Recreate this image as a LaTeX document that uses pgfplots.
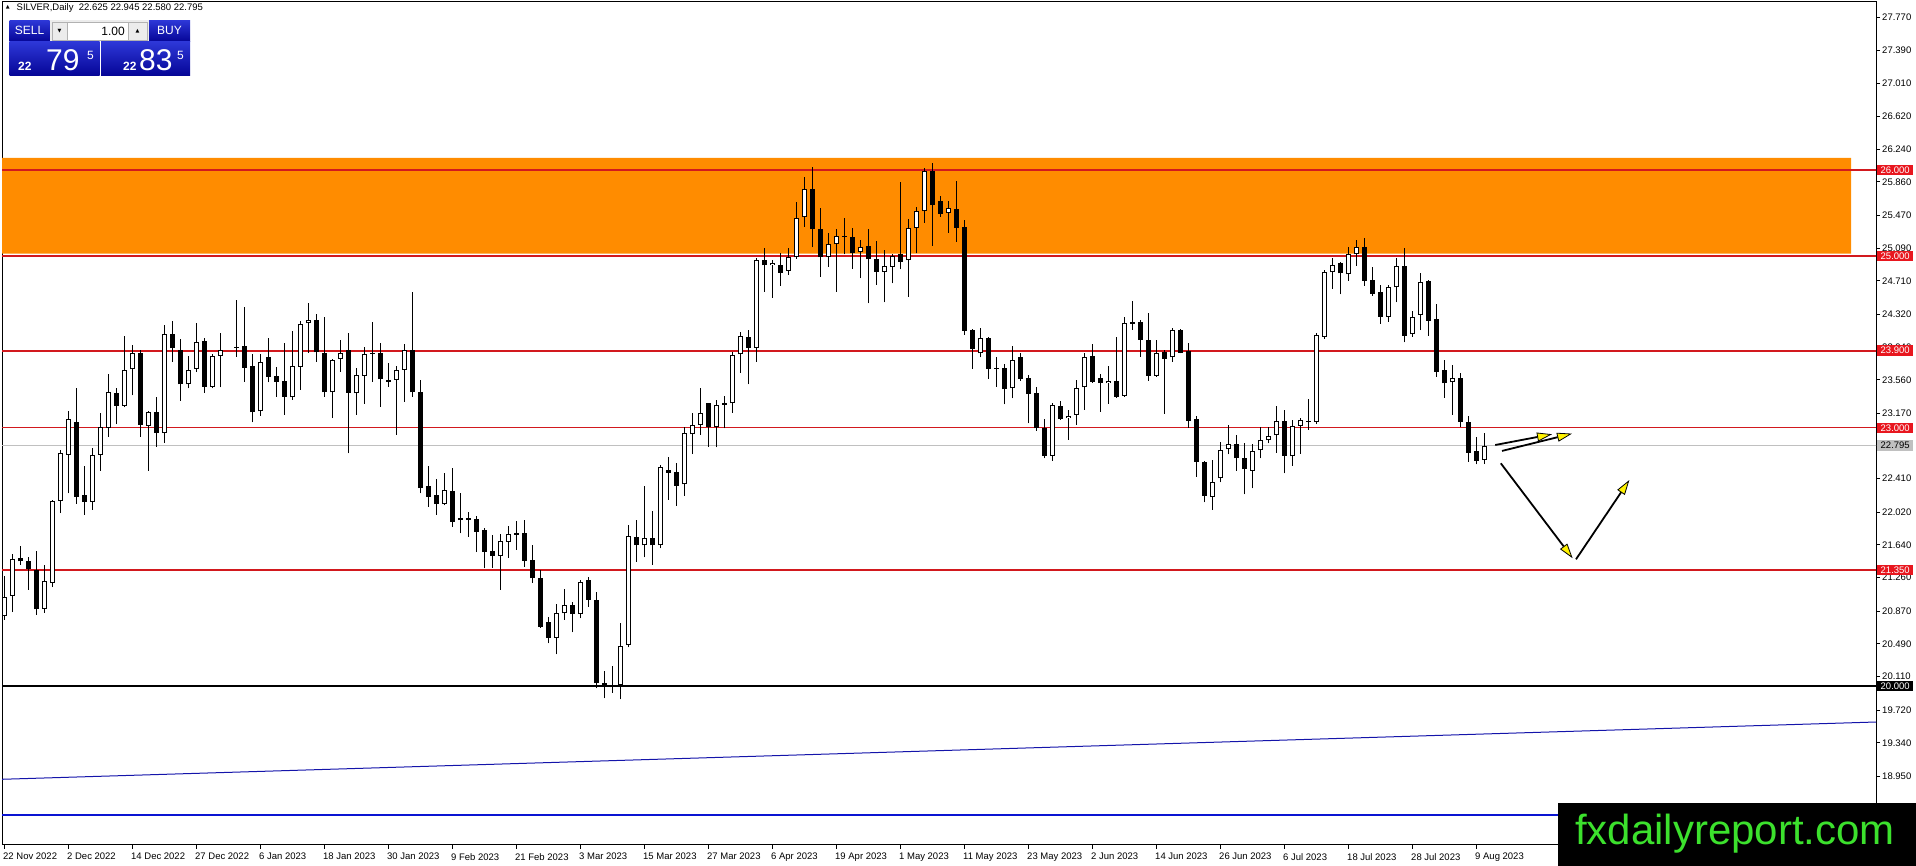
\documentclass[border=0pt]{standalone}
\usepackage{fontspec}
\setmainfont{Liberation Sans}
\newfontfamily\dejavu{DejaVu Sans}
\usepackage{pgfplots}
\usepackage{pgfplotstable}
\pgfplotsset{compat=1.18}
\usetikzlibrary{arrows.meta}

\definecolor{zone}{RGB}{255,140,0}
\definecolor{lnred}{RGB}{210,25,30}
\definecolor{boxred}{RGB}{232,22,30}
\definecolor{bidgray}{RGB}{192,192,192}
\definecolor{tlblue}{RGB}{20,20,170}
\definecolor{hblue}{RGB}{10,20,210}
\definecolor{wmgreen}{RGB}{60,225,45}
\definecolor{btntop}{RGB}{45,55,215}
\definecolor{btnbot}{RGB}{5,5,150}
\newcommand\lab{\fontsize{9.5}{10}\selectfont}

% i open high low close (daily SILVER candles)
\pgfplotstableread{
i O H L C
0 20.81 21.28 20.77 21.04
1 21.05 21.535 20.86 21.48
2 21.49 21.63 21.41 21.45
3 21.453 21.50 21.12 21.356
4 21.35 21.57 20.83 20.89
5 20.90 21.41 20.85 21.22
6 21.20 22.16 21.15 22.15
7 22.155 22.744 22.01 22.705
8 22.69 23.197 22.24 23.104
9 23.066 23.46 22.12 22.20
10 22.22 22.558 21.99 22.143
11 22.143 22.77 22.05 22.686
12 22.69 23.17 22.50 23.007
13 23.004 23.63 22.90 23.414
14 23.403 23.47 23.046 23.26
15 23.26 24.07 23.24 23.67
16 23.68 23.97 23.38 23.868
17 23.868 23.907 22.90 23.035
18 23.027 23.20 22.50 23.18
19 23.18 23.36 22.78 22.94
20 22.94 24.197 22.83 24.09
21 24.09 24.244 23.77 23.926
22 23.907 24.03 23.318 23.507
23 23.507 23.84 23.46 23.67
24 23.69 24.224 23.65 23.996
25 24.012 24.05 23.411 23.481
26 23.481 23.86 23.46 23.833
27 23.841 24.101 23.473 23.907
29 23.93 24.488 23.83 23.94
30 23.95 24.41 23.54 23.702
31 23.721 23.86 23.066 23.182
32 23.194 23.86 23.144 23.764
33 23.822 24.043 23.531 23.597
34 23.605 23.705 23.364 23.539
35 23.547 23.985 23.151 23.364
36 23.357 24.128 23.326 23.717
37 23.713 24.248 23.442 24.209
38 24.217 24.457 23.876 24.252
39 24.256 24.32 23.771 23.88
40 23.872 24.295 23.364 23.415
41 23.415 23.80 23.113 23.787
42 23.799 24.023 23.655 23.872
43 23.907 24.109 22.705 23.411
44 23.403 23.694 23.151 23.612
45 23.609 23.946 23.28 23.86
46 23.876 24.236 23.539 23.86
47 23.868 23.985 23.248 23.566
48 23.558 23.752 23.481 23.535
49 23.558 23.721 22.919 23.674
50 23.675 23.973 23.306 23.907
51 23.907 24.578 23.365 23.415
52 23.415 23.558 22.24 22.299
53 22.326 22.558 22.086 22.202
54 22.221 22.407 21.989 22.113
55 22.113 22.473 22.10 22.275
56 22.268 22.539 21.853 21.911
57 21.927 22.241 21.775 21.950
58 21.950 22.02 21.737 21.934
59 21.942 21.981 21.555 21.795
60 21.814 21.834 21.368 21.562
61 21.57 21.756 21.376 21.516
62 21.516 21.764 21.117 21.686
63 21.678 21.865 21.493 21.764
64 21.775 21.919 21.582 21.76
65 21.775 21.93 21.388 21.454
66 21.461 21.64 21.202 21.252
67 21.252 21.349 20.679 20.69
68 20.741 20.806 20.496 20.562
69 20.562 20.95 20.368 20.845
70 20.845 21.128 20.768 20.942
71 20.942 20.981 20.624 20.834
72 20.834 21.233 20.787 21.213
73 21.233 21.268 20.923 21.0
74 21.0 21.097 19.973 20.031
75 20.031 20.178 19.857 19.992
76 20.0 20.232 19.922 19.984
77 20.011 20.736 19.845 20.465
78 20.477 21.872 20.45 21.744
79 21.729 21.93 21.446 21.636
80 21.636 22.33 21.496 21.717
81 21.717 22.039 21.407 21.636
82 21.636 22.57 21.601 22.543
83 22.512 22.666 22.163 22.48
84 22.488 22.597 22.097 22.33
85 22.345 23.008 22.213 22.938
86 22.926 23.17 22.697 23.039
87 23.039 23.461 22.919 23.17
88 23.287 23.294 22.783 23.015
89 23.015 23.325 22.775 23.263
90 23.294 23.372 22.996 23.271
91 23.287 23.887 23.178 23.849
92 23.856 24.116 23.643 24.07
93 24.054 24.139 23.508 23.93
94 23.934 24.973 23.771 24.953
95 24.953 25.089 24.585 24.891
96 24.891 24.953 24.515 24.915
97 24.891 25.031 24.655 24.806
98 24.826 25.089 24.779 24.984
99 24.984 25.632 24.97 25.438
100 25.45 25.923 25.341 25.775
101 25.775 26.039 25.101 25.31
102 25.31 25.554 24.76 24.985
103 24.985 25.264 24.876 25.136
104 25.136 25.314 24.585 25.236
105 25.236 25.438 25.019 25.225
106 25.225 25.322 24.849 25.031
107 25.05 25.186 24.74 25.101
108 25.116 25.314 24.45 24.961
109 24.965 25.175 24.663 24.818
110 24.818 25.07 24.461 24.884
111 24.876 25.023 24.682 25.004
112 25.019 25.864 24.845 24.934
113 24.95 25.43 24.527 25.322
114 25.329 25.574 25.031 25.523
115 25.519 26.02 25.388 25.992
116 25.992 26.085 25.116 25.593
117 25.64 25.698 25.458 25.489
118 25.504 25.64 25.271 25.554
119 25.547 25.872 25.167 25.329
120 25.333 25.419 24.081 24.132
121 24.14 24.147 23.686 23.915
122 23.868 24.159 23.822 24.043
123 24.05 24.062 23.57 23.686
124 23.694 23.83 23.48 23.69
125 23.694 23.74 23.275 23.45
126 23.461 23.954 23.345 23.787
127 23.826 23.868 23.551 23.57
128 23.578 23.616 23.054 23.392
129 23.403 23.473 22.969 22.996
130 23.004 23.101 22.647 22.679
131 22.679 23.295 22.62 23.268
132 23.256 23.318 23.093 23.105
133 23.113 23.209 22.861 23.14
134 23.151 23.558 23.035 23.461
135 23.473 23.868 23.209 23.822
136 23.837 23.973 23.527 23.539
137 23.578 23.624 23.19 23.52
138 23.52 23.721 23.279 23.547
139 23.547 24.062 23.353 23.365
140 23.376 24.295 23.365 24.217
141 24.229 24.477 24.14 24.213
142 24.229 24.256 23.83 24.023
143 24.023 24.334 23.547 23.609
144 23.609 24.023 23.597 23.868
145 23.88 23.907 23.163 23.802
146 23.822 24.167 23.771 24.14
147 24.14 24.147 23.868 23.876
148 23.899 23.985 23.004 23.082
149 23.105 23.14 22.434 22.609
150 22.609 22.62 22.136 22.213
151 22.202 22.628 22.047 22.368
152 22.415 22.833 22.368 22.744
153 22.752 23.035 22.694 22.81
154 22.81 22.919 22.5 22.647
155 22.647 22.822 22.229 22.519
156 22.504 22.81 22.298 22.733
157 22.74 23.016 22.647 22.857
158 22.857 23.016 22.822 22.907
159 22.915 23.256 22.713 23.081
160 23.081 23.209 22.473 22.678
161 22.671 23.093 22.562 23.027
162 23.027 23.12 22.698 23.093
163 23.074 23.337 22.977 23.081
164 23.074 24.101 23.046 24.081
165 24.062 24.837 24.035 24.81
166 24.81 24.973 24.616 24.895
167 24.915 24.926 24.554 24.798
168 24.787 25.109 24.713 25.019
169 25.019 25.186 24.888 25.1
170 25.1 25.213 24.655 24.713
171 24.721 24.868 24.539 24.558
172 24.578 24.663 24.209 24.295
173 24.295 24.663 24.236 24.636
174 24.636 24.973 24.461 24.884
175 24.884 25.09 23.996 24.074
176 24.089 24.361 24.062 24.287
177 24.314 24.798 24.139 24.694
178 24.709 24.721 24.074 24.248
179 24.264 24.442 23.597 23.655
180 23.674 23.791 23.353 23.519
181 23.531 23.733 23.151 23.578
182 23.578 23.636 23.016 23.074
183 23.074 23.143 22.609 22.713
184 22.733 22.899 22.578 22.62
185 22.625 22.945 22.58 22.795
}\ohlc

\begin{document}
\begin{tikzpicture}[x=1pt,y=1pt]
\useasboundingbox (0,0) rectangle (1916,866);
\begin{axis}[
  at={(2pt,21pt)}, anchor=south west,
  scale only axis, width=1874pt, height=843pt,
  xmin=-0.25, xmax=234, ymin=18.151, ymax=27.953,
  axis line style={black, line width=1pt},
  tick style={black, line width=1pt},
  major tick length=4pt, tick align=outside,
  xtick pos=bottom, ytick pos=right, yticklabel pos=right,
  xtick={0,8,...,184},
  xticklabels={22 Nov 2022,2 Dec 2022,14 Dec 2022,27 Dec 2022,6 Jan 2023,18 Jan 2023,30 Jan 2023,9 Feb 2023,21 Feb 2023,3 Mar 2023,15 Mar 2023,27 Mar 2023,6 Apr 2023,19 Apr 2023,1 May 2023,11 May 2023,23 May 2023,2 Jun 2023,14 Jun 2023,26 Jun 2023,6 Jul 2023,18 Jul 2023,28 Jul 2023,9 Aug 2023},
  ytick={18.95,19.34,19.72,20.11,20.49,20.87,21.26,21.64,22.02,22.41,22.79,23.17,23.56,23.94,24.32,24.71,25.09,25.47,25.86,26.24,26.62,27.01,27.39,27.77},
  yticklabels={18.950,19.340,19.720,20.110,20.490,20.870,21.260,21.640,22.020,22.410,22.790,23.170,23.560,23.940,24.320,24.710,25.090,25.470,25.860,26.240,26.620,27.010,27.390,27.770},
  xticklabel style={anchor=north west, inner sep=0pt, font=\lab, yshift=-4pt, xshift=-1pt},
  yticklabel style={anchor=west, inner sep=0pt, font=\lab, xshift=2pt},
  clip=true,
]
% resistance zone
\addplot[fill=zone, draw=none] coordinates {(-1,25.027) (230.9,25.027) (230.9,26.14) (-1,26.14) (-1,25.027)};
% horizontal levels
\addplot[lnred, line width=2pt] coordinates {(-1,26) (235,26)};
\addplot[lnred, line width=2pt] coordinates {(-1,25) (235,25)};
\addplot[lnred, line width=2pt] coordinates {(-1,23.9) (235,23.9)};
\addplot[lnred, line width=1pt] coordinates {(-1,23) (235,23)};
\addplot[lnred, line width=2pt] coordinates {(-1,21.35) (235,21.35)};
\addplot[black, line width=2pt] coordinates {(-1,20) (235,20)};
\addplot[bidgray, line width=1pt] coordinates {(-1,22.795) (235,22.795)};
% blue lines
\addplot[tlblue, line width=1pt] coordinates {(-0.25,18.915) (234,19.581)};
\addplot[hblue, line width=2pt] coordinates {(-1,18.5) (235,18.5)};
% wicks
\addplot[draw=none, mark=none, error bars/.cd, y dir=plus, y explicit, error mark=none,
  error bar style={draw=black, solid, line width=1pt}]
  table[x=i, y=L, y error expr=\thisrow{H}-\thisrow{L}] {\ohlc};
% bodies (outline / bearish fill)
\addplot[draw=none, mark=none, error bars/.cd, y dir=plus, y explicit, error mark=none,
  error bar style={draw=black, solid, line width=5pt}]
  table[x=i, y expr={min(\thisrow{O},\thisrow{C})}, y error expr={max(abs(\thisrow{C}-\thisrow{O}),0.0116)}] {\ohlc};
% bullish interior
\addplot[draw=none, mark=none, error bars/.cd, y dir=plus, y explicit, error mark=none,
  error bar style={draw=white, solid, line width=3pt}]
  table[x=i, y expr={\thisrow{O}+0.0116}, y error expr={max(\thisrow{C}-\thisrow{O}-0.0232,0)}] {\ohlc};
% forecast arrows
\addplot[black, line width=1.8pt, -{Triangle[length=15pt,width=9pt,fill=yellow,line width=0.8pt]}] coordinates {(186.4,22.802) (193.5,22.927)};
\addplot[black, line width=1.8pt, -{Triangle[length=15pt,width=9pt,fill=yellow,line width=0.8pt]}] coordinates {(187.25,22.733) (196.0,22.934)};
\addplot[black, line width=1.8pt, -{Triangle[length=15pt,width=9pt,fill=yellow,line width=0.8pt]}] coordinates {(187.1,22.589) (196.08,21.485)};
\addplot[black, line width=1.8pt, -{Triangle[length=15pt,width=9pt,fill=yellow,line width=0.8pt]}] coordinates {(196.5,21.473) (203.17,22.395)};
\coordinate (b26) at (axis cs:234,26);
\coordinate (b25) at (axis cs:234,25);
\coordinate (b239) at (axis cs:234,23.9);
\coordinate (b23) at (axis cs:234,23);
\coordinate (bbid) at (axis cs:234,22.795);
\coordinate (b2135) at (axis cs:234,21.35);
\coordinate (b20) at (axis cs:234,20);
\end{axis}
% price label boxes
\tikzset{pbox/.style={anchor=west, inner sep=0pt, minimum width=36pt, minimum height=10.5pt, font=\lab}}
\node[pbox, fill=boxred, text=white] at ([xshift=1pt]b26) {26.000};
\node[pbox, fill=boxred, text=white] at ([xshift=1pt]b25) {25.000};
\node[pbox, fill=boxred, text=white] at ([xshift=1pt]b239) {23.900};
\node[pbox, fill=boxred, text=white] at ([xshift=1pt]b23) {23.000};
\node[pbox, fill=bidgray, text=black] at ([xshift=1pt]bbid) {22.795};
\node[pbox, fill=boxred, text=white] at ([xshift=1pt]b2135) {21.350};
\node[pbox, fill=black, text=white] at ([xshift=1pt]b20) {20.000};
% header
\node[anchor=center, inner sep=0pt, font=\dejavu\fontsize{5}{5}\selectfont] at (7.8,858.5) {▲};
\node[anchor=west, inner sep=0pt, font=\lab] at (16.5,858.3) {SILVER,Daily\ \ 22.625 22.945 22.580 22.795};
% one-click trading panel
\shade[top color=btntop, bottom color=btnbot] (9.5,824.5) rectangle (49.5,845.5);
\shade[top color=btntop, bottom color=btnbot] (149,824.5) rectangle (190,845.5);
\fill[gray!15] (50,824.5) rectangle (148.5,845.5);
\draw[gray!60] (52,826) rectangle (67,844);
\fill[white] (67,826) rectangle (128,844);
\draw[gray!60] (67,826) rectangle (128,844);
\draw[gray!60] (128,826) rectangle (147,844);
\node[inner sep=0pt, font=\dejavu\fontsize{5}{5}\selectfont] at (59.5,835) {▼};
\node[inner sep=0pt, font=\dejavu\fontsize{5}{5}\selectfont] at (137.5,835) {▲};
\node[anchor=east, inner sep=0pt, font=\fontsize{12}{12}\selectfont] at (125,835) {1.00};
\node[inner sep=0pt, text=white, font=\fontsize{12}{12}\selectfont] at (29.5,835.5) {SELL};
\node[inner sep=0pt, text=white, font=\fontsize{12}{12}\selectfont] at (169.5,835.5) {BUY};
\draw[blue!40!white, line width=0.8pt] (11,825) -- (48,825);
\draw[blue!40!white, line width=0.8pt] (151,825) -- (188,825);
\shade[top color=btntop, bottom color=btnbot] (9.5,790.3) rectangle (99.5,824);
\shade[top color=btntop, bottom color=btnbot] (101,790.3) rectangle (190,824);
\node[anchor=base west, inner sep=0pt, text=white, font=\bfseries\fontsize{12}{12}\selectfont] at (18,795.3) {22};
\node[anchor=base west, inner sep=0pt, text=white, font=\fontsize{30}{30}\selectfont] at (46,795.3) {79};
\node[anchor=base west, inner sep=0pt, text=white, font=\fontsize{12}{12}\selectfont] at (87,806.7) {5};
\node[anchor=base west, inner sep=0pt, text=white, font=\bfseries\fontsize{12}{12}\selectfont] at (123,795.3) {22};
\node[anchor=base west, inner sep=0pt, text=white, font=\fontsize{30}{30}\selectfont] at (139,795.3) {83};
\node[anchor=base west, inner sep=0pt, text=white, font=\fontsize{12}{12}\selectfont] at (177,806.7) {5};
% watermark
\fill[black] (1558,0) rectangle (1916,63);
\node[anchor=base west, inner sep=0pt, text=wmgreen, font=\fontsize{42}{42}\selectfont] at (1575,21) {fxdailyreport.com};
\end{tikzpicture}
\end{document}
